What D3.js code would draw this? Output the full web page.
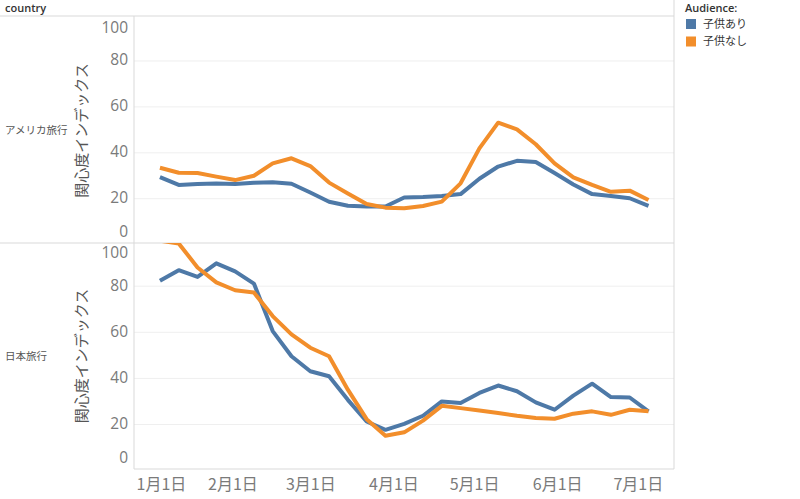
<!DOCTYPE html>
<html><head><meta charset="utf-8">
<script src="https://cdn.jsdelivr.net/npm/d3@7"></script>
<style>
body{margin:0;background:#fff;}
svg{display:block;font-family:"Open Sans","Noto Sans CJK JP",sans-serif;}
</style></head>
<body><svg id="c" width="800" height="499"></svg>
<script>
const weeks = ["2020-01-05","2020-01-12","2020-01-19","2020-01-26","2020-02-02","2020-02-09","2020-02-16","2020-02-23",
 "2020-03-01","2020-03-08","2020-03-15","2020-03-22","2020-03-29","2020-04-05","2020-04-12","2020-04-19","2020-04-26",
 "2020-05-03","2020-05-10","2020-05-17","2020-05-24","2020-05-31","2020-06-07","2020-06-14","2020-06-21","2020-06-28","2020-07-05"];
const countries = ["アメリカ旅行","日本旅行"];
const audiences = ["子供あり","子供なし"];
const usWithKids =    [29.2,25.8,26.2,26.4,26.2,26.7,27,26.3,22.5,18.5,16.7,16.4,16.4,20.3,20.5,21,21.8,28.5,33.8,36.3,35.8,31,26,21.8,21,20,16.7];
const usNoKids =      [33.3,31.1,31,29.4,27.9,29.8,35.2,37.4,34,26.8,22.1,17.5,15.9,15.6,16.6,18.5,26.5,41.7,52.9,50,43.5,35.2,29.1,25.8,22.8,23.3,19.2];
const japanWithKids = [82.1,86.7,83.8,89.7,86.2,80.9,60.3,49.4,42.9,40.7,30.5,21.1,17.5,20.1,23.6,29.8,29.1,33.5,36.7,34.2,29.4,26.2,32.3,37.5,31.7,31.5,25.5];
const japanNoKids =   [99.5,98.3,87.9,81.4,78,77,66.8,58.9,53.1,49.4,34.9,22.1,14.9,16.4,21.5,27.9,26.9,25.9,24.8,23.6,22.6,22.3,24.5,25.5,24,26.2,25.5];
const yTicks = [0,20,40,60,80,100];
const xTickDates = ["2020-01-01","2020-02-01","2020-03-01","2020-04-01","2020-05-01","2020-06-01","2020-07-01"];
const colors = ["#4e79a7","#f28e2b"];
const yTitle = "関心度インデックス";

const parse = d3.timeParse("%Y-%m-%d");
const dates = weeks.map(parse);
const panelsData = [[usWithKids,usNoKids],[japanWithKids,japanNoKids]];

const svg = d3.select("#c");
const L = 134, R = 674, headerY = 16;
const panels = [{top:18,bottom:243},{top:243,bottom:469}];
const x = d3.scaleTime().domain([new Date(2019,11,26,8), new Date(2020,6,14,12)]).range([L,R]);
const gridC = "#efefef", borderC = "#d9d9d9", tickC = "#7a7a7a";

// header
svg.append("text").attr("x",5).attr("y",12).attr("font-size",11).attr("font-weight",600).attr("fill","#333").text("country");
svg.append("line").attr("x1",0).attr("x2",R).attr("y1",headerY).attr("y2",headerY).attr("stroke",borderC);

panels.forEach((p,pi)=>{
  const y = d3.scaleLinear().domain([0.5,98.5]).range([p.bottom,p.top]);
  const g = svg.append("g");
  // gridlines
  g.append("g").attr("transform",`translate(${L},0)`)
    .call(d3.axisLeft(y).tickValues(yTicks.filter(v=>y(v)>p.top+1 && y(v)<p.bottom-1)).tickSize(-(R-L)).tickFormat(""))
    .call(s=>{s.select(".domain").remove(); s.selectAll(".tick line").attr("stroke",gridC);});
  // y axis labels
  const ax = g.append("g").attr("transform",`translate(${L},0)`)
    .call(d3.axisLeft(y).tickValues(yTicks).tickSize(0).tickPadding(6))
    .call(s=>{s.select(".domain").remove();});
  ax.selectAll(".tick").each(function(d){
    const yy = Math.max(p.top+10.5, Math.min(p.bottom-11, y(d)));
    d3.select(this).attr("transform",`translate(0,${yy})`);
  });
  ax.selectAll(".tick text").attr("font-size",15.5).attr("fill",tickC).attr("font-family","'Open Sans',sans-serif");
  // y title
  const cy = (p.top+p.bottom)/2;
  g.append("text").attr("transform",`translate(87,${cy}) rotate(-90)`).attr("text-anchor","middle")
    .attr("font-size",15).attr("fill","#555").attr("font-family","'Noto Sans CJK JP',sans-serif").text(yTitle);
  // row header
  g.append("text").attr("x",5).attr("y",cy).attr("dy","0.35em").attr("font-size",10.5).attr("fill","#555")
    .attr("font-family","'Noto Sans CJK JP',sans-serif").text(countries[pi]);
  // clip
  svg.append("clipPath").attr("id","clip"+pi).append("rect").attr("x",L).attr("y",p.top).attr("width",R-L).attr("height",p.bottom-p.top);
  const line = d3.line().x((d,i)=>x(dates[i])).y(d=>y(d));
  const lg = g.append("g").attr("clip-path",`url(#clip${pi})`);
  panelsData[pi].forEach((vals,si)=>{
    lg.append("path").datum(vals).attr("d",line).attr("fill","none").attr("stroke",colors[si])
      .attr("stroke-width",4).attr("stroke-linejoin","round").attr("stroke-linecap","butt");
  });
  // separator/bottom line
  svg.append("line").attr("x1",pi===0?0:L).attr("x2",R).attr("y1",p.bottom).attr("y2",p.bottom).attr("stroke",borderC);
});

// frame verticals
svg.append("line").attr("x1",L).attr("x2",L).attr("y1",headerY).attr("y2",469).attr("stroke",borderC);
svg.append("line").attr("x1",R).attr("x2",R).attr("y1",0).attr("y2",469).attr("stroke",borderC);

// x axis
const xa = svg.append("g").attr("transform","translate(0,469)")
  .call(d3.axisBottom(x).tickValues(xTickDates.map(parse)).tickSize(0).tickPadding(10)
    .tickFormat(d=>(d.getMonth()+1)+"月1日"))
  .call(s=>s.select(".domain").remove());
xa.selectAll(".tick text").attr("font-size",16).attr("fill",tickC).attr("font-family","'Noto Sans CJK JP',sans-serif");
xa.selectAll(".tick").each(function(d){
  const t = d3.select(this).select("text").node();
  const bb = t.getBBox();
  const cx = x(d);
  if (cx + bb.x < L + 2) d3.select(this).select("text").attr("x", (L+2) - (cx + bb.x));
});

// legend
const lgd = svg.append("g");
lgd.append("text").attr("x",685).attr("y",12).attr("font-size",11).attr("font-weight",600).attr("fill","#333").text("Audience:");
audiences.forEach((a,i)=>{
  lgd.append("rect").attr("x",686).attr("y",19+i*17.5).attr("width",10).attr("height",10).attr("fill",colors[i]);
  lgd.append("text").attr("x",703).attr("y",24+i*17.5).attr("dy","0.35em").attr("font-size",11).attr("fill","#333")
    .attr("font-family","'Noto Sans CJK JP',sans-serif").text(a);
});
</script></body></html>
